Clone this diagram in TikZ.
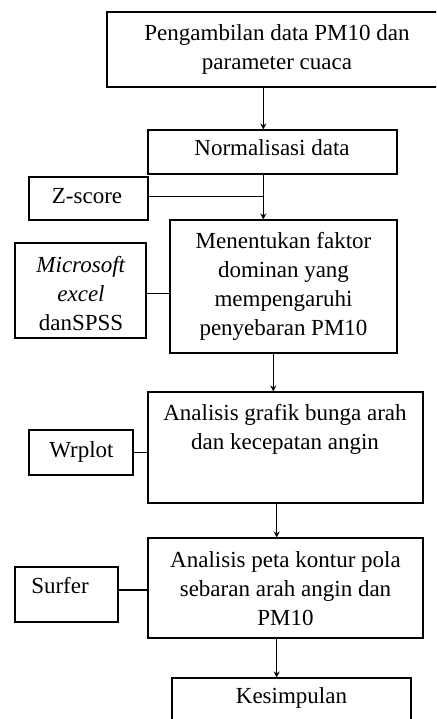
\documentclass[tikz,border=0pt]{standalone}
\usepackage{fontspec}
\setmainfont{Liberation Serif}
\usetikzlibrary{arrows.meta}
\tikzset{
  box/.style={draw=black, line width=1.1pt, rectangle, inner sep=0pt},
  txt/.style={anchor=north, inner sep=0pt, align=center, font=\fontsize{23}{29}\selectfont},
  conn/.style={draw=black, line width=1.1pt},
  arr/.style={conn, -{Stealth[length=6pt,width=6pt]}}
}
\begin{document}
\begin{tikzpicture}[x=1pt,y=-1pt]
\useasboundingbox (0,0) rectangle (436,719);
\clip (0,0) rectangle (436,719);
\fill[white] (0,0) rectangle (436,719);
% boxes
\node[box, minimum width=340, minimum height=75] (b1) at (277,49.5) {};
\node[box, minimum width=249, minimum height=44] (b2) at (272.5,152) {};
\node[box, minimum width=119, minimum height=43] (bz) at (88.5,198.5) {};
\node[box, minimum width=227, minimum height=133] (b3) at (283.5,286.5) {};
\node[box, minimum width=131, minimum height=95] (bm) at (80.5,290.5) {};
\node[box, minimum width=275, minimum height=111] (b4) at (285.5,447.5) {};
\node[box, minimum width=104, minimum height=45] (bw) at (81,452.5) {};
\node[box, minimum width=275, minimum height=100] (b5) at (285.5,588) {};
\node[box, minimum width=103, minimum height=55] (bs) at (66.5,594.5) {};
\node[box, minimum width=239, minimum height=80] (b6) at (291.5,718) {};
% texts
\node[txt] (t1) at (277,24.5) {Pengambilan data PM10 dan\\parameter cuaca};
\node[txt] (t2) at (272,139.5) {Normalisasi data};
\node[txt] (tz) at (87,188.5) {Z-score};
\node[txt] (t3) at (283.5,232.5) {Menentukan faktor\\dominan yang\\mempengaruhi\\penyebaran PM10};
\node[txt] (tm) at (81,256) {\textit{Microsoft}\\\textit{excel}\\danSPSS};
\node[txt] (t4) at (285,404.5) {Analisis grafik bunga arah\\dan kecepatan angin};
\node[txt] (tw) at (81.5,441.5) {Wrplot};
\node[txt] (t5) at (285.5,551.5) {Analisis peta kontur pola\\sebaran arah angin dan\\PM10};
\node[txt] (ts) at (60,577.5) {Surfer};
\node[txt] (t6) at (291.5,687.5) {Kesimpulan};
% connector columns
\coordinate (c1) at (263.3,0);
\coordinate (c3) at (273.3,0);
\coordinate (c4) at (276.7,0);
\coordinate (jz) at (263.3,196.7);
% connectors
\draw[arr] (c1 |- b1.south) -- (c1 |- b2.north);
\draw[arr] (c1 |- b2.south) -- (c1 |- b3.north);
\draw[conn] (bz.east |- jz) -- (jz);
\draw[conn] (bm.east |- 0,293.3) -- (b3.west |- 0,293.3);
\draw[arr] (c3 |- b3.south) -- (c3 |- b4.north);
\draw[conn] (bw.east |- 0,452.3) -- (b4.west |- 0,452.3);
\draw[arr] (c4 |- b4.south) -- (c4 |- b5.north);
\draw[conn] (bs.east |- 0,590) -- (b5.west |- 0,590);
\draw[arr] (c4 |- b5.south) -- (c4 |- b6.north);
\end{tikzpicture}
\end{document}
